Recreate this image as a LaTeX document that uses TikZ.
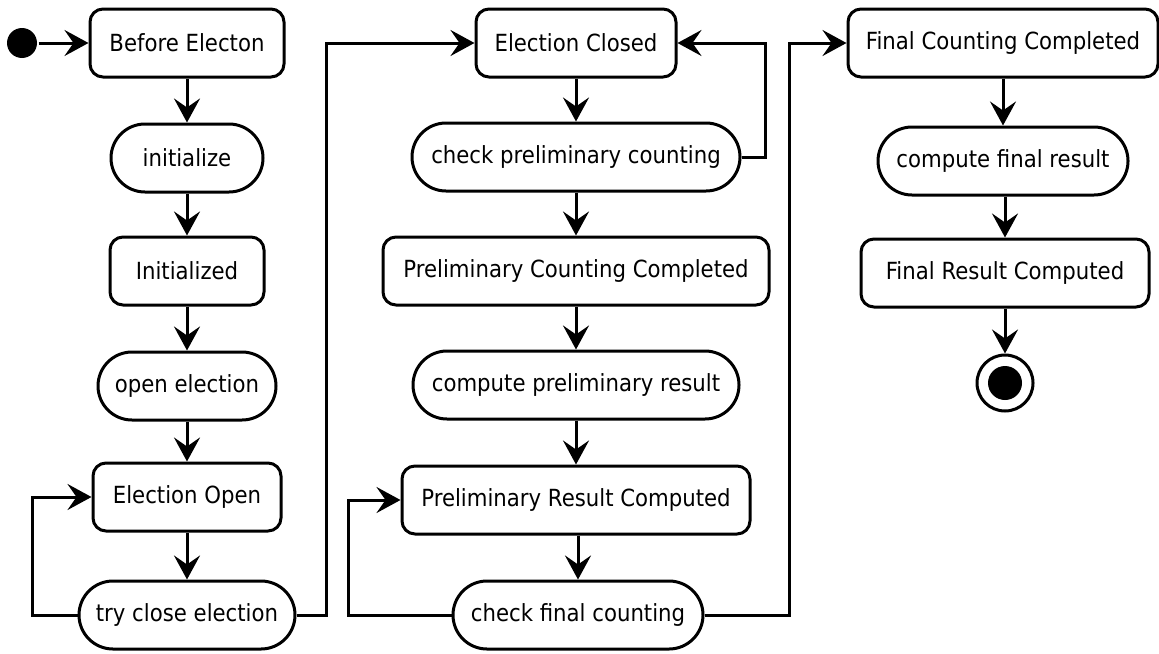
\documentclass[tikz,border=0pt]{standalone}
\usepackage{fontspec}
\setmainfont{DejaVu Sans}[FakeStretch=0.9]
\usepackage{tikz}
\usetikzlibrary{arrows.meta}

\begin{document}
\begin{tikzpicture}[x=0.5pt, y=-0.5pt, line width=1.5pt]
                  \tikzstyle{state}=[draw, rounded corners=6.5pt, minimum height=34pt, inner xsep=0pt, font=\fontsize{11.8pt}{14pt}\selectfont]
                  \tikzstyle{act}=[draw, rounded corners=17pt, minimum height=34pt, inner xsep=0pt, font=\fontsize{11.8pt}{14pt}\selectfont]
                  \tikzstyle{startst}=[circle, fill, minimum size=15pt, inner sep=0pt]
                  \tikzstyle{endst}=[circle, draw, minimum size=28pt, inner sep=0pt]
                  \tikzstyle{arr}=[-{Stealth[length=12pt, width=13pt, inset=4.5pt]}]

                  \useasboundingbox (0,0) rectangle (1159,653);

                  % first column
                  \node[startst] (start) at (22,43) {};
                  \node[state, minimum width=97pt] (before) at (187,43) {Before Electon};
                  \node[act, minimum width=76pt] (init) at (187,158) {initialize};
                  \node[state, minimum width=77pt] (initd) at (187,271) {Initialized};
                  \node[act, minimum width=89pt] (openel) at (187,386) {open election};
                  \node[state, minimum width=94pt] (elopen) at (187,497) {Election Open};
                  \node[act, minimum width=108pt] (tryclose) at (187,615) {try close election};

                  % second column
                  \node[state, minimum width=100pt] (elclosed) at (576,43) {Election Closed};
                  \node[act, minimum width=164pt] (checkprelim) at (576,157) {check preliminary counting};
                  \node[state, minimum width=193pt] (prelimcount) at (576,271) {Preliminary Counting Completed};
                  \node[act, minimum width=163pt] (compprelim) at (576,385) {compute preliminary result};
                  \node[state, minimum width=174pt] (prelimres) at (576,500) {Preliminary Result Computed};
                  \node[act, minimum width=125pt] (checkfinal) at (578,615) {check final counting};

                  % third column
                  \node[state, minimum width=155pt] (fincount) at (1003,43) {Final Counting Completed};
                  \node[act, minimum width=125pt] (compfinal) at (1003,161) {compute final result};
                  \node[state, minimum width=144pt] (finres) at (1005,273) {Final Result Computed};
                  \node[endst] (end) at (1005,383) {};
                  \fill (end.center) circle (8.5pt);

                  \draw[arr] (start) -- (before);
                  \draw[arr] (before) -- (init);
                  \draw[arr] (init) -- (initd);
                  \draw[arr] (initd) -- (openel);
                  \draw[arr] (openel) -- (elopen);
                  \draw[arr] (elopen) -- (tryclose);
                  \draw[arr] (tryclose.west) -- ++(-45,0) |- (elopen.west);
                  \draw[arr] (tryclose.east) -- ++(30,0) |- (elclosed.west);

                  \draw[arr] (elclosed) -- (checkprelim);
                  \draw[arr] (checkprelim.east) -- ++(24,0) |- (elclosed.east);
                  \draw[arr] (checkprelim) -- (prelimcount);
                  \draw[arr] (prelimcount) -- (compprelim);
                  \draw[arr] (compprelim) -- (prelimres);
                  \draw[arr] (prelimres.south -| checkfinal) -- (checkfinal);
                  \draw[arr] (checkfinal.west) -- ++(-103,0) |- (prelimres.west);
                  \draw[arr] (checkfinal.east) -- ++(85,0) |- (fincount.west);

                  \draw[arr] (fincount.south -| compfinal) -- (compfinal);
                  \draw[arr] (compfinal.south -| finres) -- (finres);
                  \draw[arr] (finres) -- (end);
                \end{tikzpicture}
\end{document}
